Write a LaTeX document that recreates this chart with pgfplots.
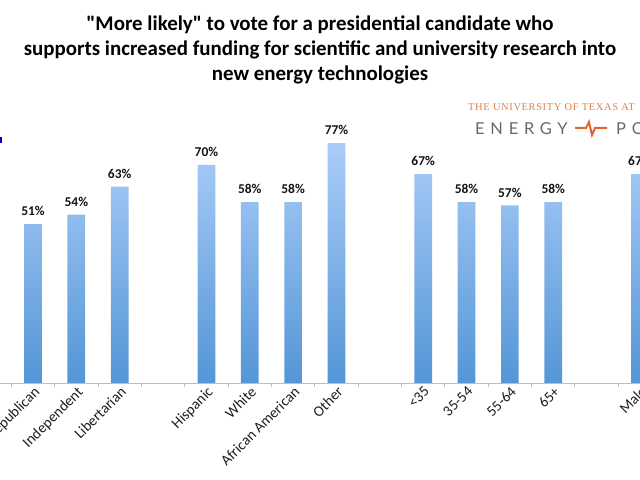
\documentclass[border=0pt]{standalone}
\usepackage{pgfplots}
\pgfplotsset{compat=1.18}
\usepackage{fontspec}
\setmainfont{Carlito}
\newfontfamily\logoserif[LetterSpace=6]{Liberation Serif}
\newfontfamily\logosans[LetterSpace=35]{Lato}
\definecolor{barTop}{RGB}{170,204,248}
\definecolor{barBot}{RGB}{84,150,214}
\definecolor{axisgray}{RGB}{190,190,190}
\definecolor{utorange}{RGB}{222,130,70}
\definecolor{pulseorange}{RGB}{226,100,40}
\definecolor{logogray}{RGB}{105,105,105}
\definecolor{labeltext}{RGB}{30,30,30}
\definecolor{datatext}{RGB}{20,20,20}
\begin{document}
\begin{tikzpicture}
\useasboundingbox (0,0) rectangle (640bp,480bp);
\clip (0,0) rectangle (640bp,480bp);
\fill[white] (0,0) rectangle (640bp,480bp);
\node[anchor=base, inner sep=0pt, font=\fontsize{21}{25}\selectfont\bfseries] at (320bp,449.5bp) {\textquotedbl More likely\textquotedbl{} to vote for a presidential candidate who};
\node[anchor=base, inner sep=0pt, font=\fontsize{21}{25}\selectfont\bfseries] at (320bp,424.5bp) {supports increased funding for scientific and university research into};
\node[anchor=base, inner sep=0pt, font=\fontsize{21}{25}\selectfont\bfseries] at (320bp,399.5bp) {new energy technologies};
\node[anchor=base west, inner sep=0pt, text=utorange, font=\logoserif\fontsize{10.5}{12}\selectfont] at (468bp,369bp) {THE UNIVERSITY OF TEXAS AT};
\node[anchor=base west, inner sep=0pt, text=logogray, font=\logosans\fontsize{16.5}{18}\selectfont] at (475bp,345bp) {ENERGY};
\node[anchor=base west, inner sep=0pt, text=logogray, font=\logosans\fontsize{16.5}{18}\selectfont] at (616bp,345bp) {PO};
\draw[pulseorange, line width=2bp, line join=miter] (575bp,352bp) -- (586bp,352bp) -- (589bp,358bp) -- (592bp,345bp) -- (595bp,352bp) -- (607bp,352bp);
\fill[blue!75!black] (0bp,337bp) rectangle (1.5bp,343bp);
\begin{axis}[
  at={(0bp,97bp)}, anchor=south west,
  scale only axis, width=683.3bp, height=280.5bp,
  xmin=-0.761, xmax=15, ymin=0, ymax=90,
  clip=false,
  axis x line*=bottom, axis y line=none,
  axis line style={-, draw=axisgray, line width=0.9bp},
  xtick={0,1,2,4,5,6,7,9,10,11,12,14},
  xticklabels={Republican,Independent,Libertarian,Hispanic,White,African American,Other,<35,35-54,55-64,65+,Male},
  minor xtick={-0.5,0.5,...,14.5},
  major tick length=0pt, minor tick length=4.5bp,
  tick align=outside,
  tick style={draw=axisgray, line width=0.9bp},
  xticklabel shift=1bp,
  xticklabel style={rotate=45, anchor=north east, font=\fontsize{15}{17}\selectfont, text=labeltext, inner sep=1bp},
  ybar, bar width=17.7bp,
  /pgf/number format/assume math mode=true,
  point meta=y,
  nodes near coords={\pgfmathprintnumber{\pgfplotspointmeta}\%},
  nodes near coords style={font=\fontsize{13.5}{16}\selectfont\bfseries, text=datatext, anchor=south, inner sep=0pt, yshift=8bp},
]
\addplot[draw=none, top color=barTop, bottom color=barBot] coordinates {
  (0,51) (1,54) (2,63) (4,70) (5,58) (6,58) (7,77)
  (9,67) (10,58) (11,57) (12,58) (14,67)
};
\end{axis}
\end{tikzpicture}
\end{document}
